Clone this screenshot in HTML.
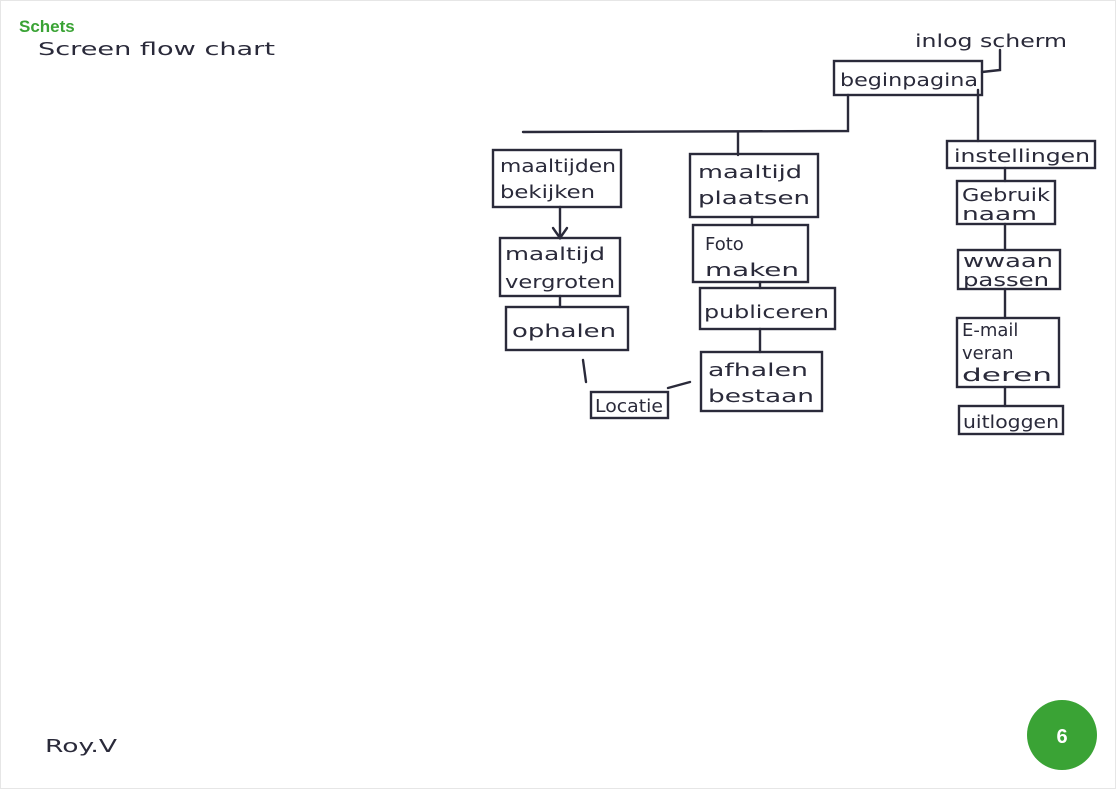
<!DOCTYPE html>
<html><head><meta charset="utf-8"><style>
html,body{margin:0;padding:0;background:#fff;}
body{width:1116px;height:789px;overflow:hidden;position:relative;font-family:"Liberation Sans",sans-serif;}
svg{position:absolute;left:0;top:0;}
.h{font-family:"DejaVu Sans","Liberation Sans",sans-serif;fill:#2a2a3a;font-size:18px;}
</style></head><body>
<svg width="1116" height="789" viewBox="0 0 1116 789">
<rect x="0.5" y="0.5" width="1115" height="788" fill="#fff" stroke="#e6e6e6"/>
<text x="19" y="32" font-family="Liberation Sans" font-weight="bold" font-size="17" fill="#3aa335">Schets</text>
<text x="38" y="55" class="h" font-size="22" textLength="237" lengthAdjust="spacingAndGlyphs">Screen flow chart</text>
<text x="915" y="47" class="h" font-size="19" textLength="152" lengthAdjust="spacingAndGlyphs">inlog scherm</text>
<g fill="none" stroke="#2a2a3a" stroke-width="2.4" stroke-linecap="round">
<path d="M1000 50 L1000 70 L982 72"/>
<rect x="834" y="61" width="148" height="34"/>
<path d="M848 95 L848 131 L523 132"/>
<path d="M738 132 L738 155"/>
<path d="M978 90 L978 141"/>
<rect x="493" y="150" width="128" height="57"/>
<path d="M560 207 L560 238 M553 228 L560 238 L567 228"/>
<rect x="500" y="238" width="120" height="58"/>
<path d="M560 296 L560 307"/>
<rect x="506" y="307" width="122" height="43"/>
<path d="M583 360 L586 382"/>
<rect x="591" y="392" width="77" height="26"/>
<path d="M668 388 L690 382"/>
<rect x="690" y="154" width="128" height="63"/>
<path d="M752 217 L752 225"/>
<rect x="693" y="225" width="115" height="57"/>
<path d="M760 282 L760 288"/>
<rect x="700" y="288" width="135" height="41"/>
<path d="M760 329 L760 352"/>
<rect x="701" y="352" width="121" height="59"/>
<rect x="947" y="141" width="148" height="27"/>
<path d="M1005 168 L1005 181"/>
<rect x="957" y="181" width="98" height="43"/>
<path d="M1005 224 L1005 250"/>
<rect x="958" y="250" width="102" height="39"/>
<path d="M1005 289 L1005 318"/>
<rect x="957" y="318" width="102" height="69"/>
<path d="M1005 387 L1005 406"/>
<rect x="959" y="406" width="104" height="28"/>
</g>
<text x="840" y="86" class="h" textLength="138" lengthAdjust="spacingAndGlyphs">beginpagina</text>
<text x="500" y="172" class="h" textLength="116" lengthAdjust="spacingAndGlyphs">maaltijden</text>
<text x="500" y="198" class="h" textLength="95" lengthAdjust="spacingAndGlyphs">bekijken</text>
<text x="505" y="260" class="h" textLength="100" lengthAdjust="spacingAndGlyphs">maaltijd</text>
<text x="505" y="288" class="h" textLength="110" lengthAdjust="spacingAndGlyphs">vergroten</text>
<text x="512" y="337" class="h" textLength="104" lengthAdjust="spacingAndGlyphs">ophalen</text>
<text x="595" y="412" class="h" font-size="15" textLength="68" lengthAdjust="spacingAndGlyphs">Locatie</text>
<text x="698" y="178" class="h" textLength="104" lengthAdjust="spacingAndGlyphs">maaltijd</text>
<text x="698" y="204" class="h" textLength="112" lengthAdjust="spacingAndGlyphs">plaatsen</text>
<text x="705" y="250" class="h">Foto</text>
<text x="705" y="276" class="h" textLength="94" lengthAdjust="spacingAndGlyphs">maken</text>
<text x="704" y="318" class="h" textLength="125" lengthAdjust="spacingAndGlyphs">publiceren</text>
<text x="708" y="376" class="h" textLength="100" lengthAdjust="spacingAndGlyphs">afhalen</text>
<text x="708" y="402" class="h" textLength="106" lengthAdjust="spacingAndGlyphs">bestaan</text>
<text x="954" y="162" class="h" textLength="136" lengthAdjust="spacingAndGlyphs">instellingen</text>
<text x="962" y="201" class="h" textLength="88" lengthAdjust="spacingAndGlyphs">Gebruik</text>
<text x="962" y="220" class="h" textLength="75" lengthAdjust="spacingAndGlyphs">naam</text>
<text x="963" y="267" class="h" textLength="90" lengthAdjust="spacingAndGlyphs">wwaan</text>
<text x="963" y="286" class="h" textLength="86" lengthAdjust="spacingAndGlyphs">passen</text>
<text x="962" y="336" class="h">E-mail</text>
<text x="962" y="359" class="h">veran</text>
<text x="962" y="381" class="h" textLength="90" lengthAdjust="spacingAndGlyphs">deren</text>
<text x="963" y="428" class="h" textLength="96" lengthAdjust="spacingAndGlyphs">uitloggen</text>
<text x="45" y="752" class="h" font-size="26" textLength="72" lengthAdjust="spacingAndGlyphs">Roy.V</text>
<circle cx="1062" cy="735" r="35" fill="#3aa335"/>
<text x="1062" y="743" text-anchor="middle" font-family="Liberation Sans" font-weight="bold" font-size="20" fill="#fff">6</text>
</svg>
</body></html>
